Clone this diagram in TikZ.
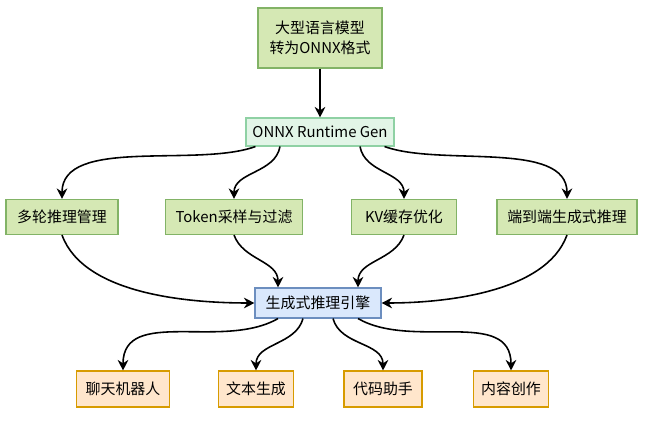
\documentclass[tikz,border=0pt]{standalone}
\usepackage{fontspec}
\setmainfont{Noto Sans CJK SC}
\usetikzlibrary{arrows.meta}
\definecolor{grnfill}{HTML}{D5E8B4}
\definecolor{grnline}{HTML}{82B366}
\definecolor{mintfill}{HTML}{E2F5E7}
\definecolor{mintline}{HTML}{8FD1A4}
\definecolor{bluefill}{HTML}{DAE8FC}
\definecolor{blueline}{HTML}{6C8EBF}
\definecolor{orgfill}{HTML}{FFE6CC}
\definecolor{orgline}{HTML}{D79B00}
\begin{document}
\begin{tikzpicture}[x=0.02cm,y=-0.02cm,font=\fontsize{8.5}{11.5}\selectfont,
		box/.style={draw,rectangle,inner sep=0pt,align=center,line width=0.6pt},
		feat/.style={box,fill=grnfill,draw=grnline},
		app/.style={box,fill=orgfill,draw=orgline,minimum height=36*0.02cm},
		edge/.style={-{Stealth[length=6pt,width=6pt]},line width=0.9pt}]
		\useasboundingbox (0,0) rectangle (655,422);
		% source and runtime
		\node[feat,minimum width=124*0.02cm,minimum height=60*0.02cm] (model) at (320,38) {大型语言模型\\转为ONNX格式};
		\node[box,fill=mintfill,draw=mintline,minimum width=148*0.02cm,minimum height=28*0.02cm] (gen) at (320,132) {ONNX Runtime Gen};
		% features
		\node[feat,minimum width=112*0.02cm,minimum height=35*0.02cm] (multi) at (62,217) {多轮推理管理};
		\node[feat,minimum width=137*0.02cm,minimum height=35*0.02cm] (token) at (234,217) {Token采样与过滤};
		\node[feat,minimum width=105*0.02cm,minimum height=35*0.02cm] (kv) at (404,217) {KV缓存优化};
		\node[feat,minimum width=140*0.02cm,minimum height=35*0.02cm] (e2e) at (567,217) {端到端生成式推理};
		% engine
		\node[box,fill=bluefill,draw=blueline,minimum width=126*0.02cm,minimum height=30*0.02cm] (engine) at (318,303) {生成式推理引擎};
		% applications
		\node[app,minimum width=93*0.02cm] (chat) at (123,389) {聊天机器人};
		\node[app,minimum width=75*0.02cm] (text) at (256,389) {文本生成};
		\node[app,minimum width=78*0.02cm] (code) at (383,389) {代码助手};
		\node[app,minimum width=75*0.02cm] (write) at (511,389) {内容创作};
		\draw[edge] (model) -- (gen);
		\draw[edge] (gen.south west) ++(10,0) to[out=200,in=90,looseness=0.8] (multi.north);
		\draw[edge] (gen.south) ++(-40,0) to[out=260,in=90] (token.north);
		\draw[edge] (gen.south) ++(40,0) to[out=280,in=90] (kv.north);
		\draw[edge] (gen.south east) ++(-10,0) to[out=-20,in=90,looseness=0.8] (e2e.north);
		\draw[edge] (multi.south) to[out=-70,in=180,looseness=0.8] (engine.west);
		\draw[edge] (token.south) to[out=-70,in=90] ([xshift=-40*0.02cm]engine.north);
		\draw[edge] (kv.south) to[out=-110,in=90] ([xshift=40*0.02cm]engine.north);
		\draw[edge] (e2e.south) to[out=-110,in=0,looseness=0.8] (engine.east);
		\draw[edge] ([xshift=-40*0.02cm]engine.south) to[out=210,in=90] (chat.north);
		\draw[edge] ([xshift=-15*0.02cm]engine.south) to[out=255,in=90] (text.north);
		\draw[edge] ([xshift=15*0.02cm]engine.south) to[out=285,in=90] (code.north);
		\draw[edge] ([xshift=40*0.02cm]engine.south) to[out=-30,in=90] (write.north);
\end{tikzpicture}
\end{document}
